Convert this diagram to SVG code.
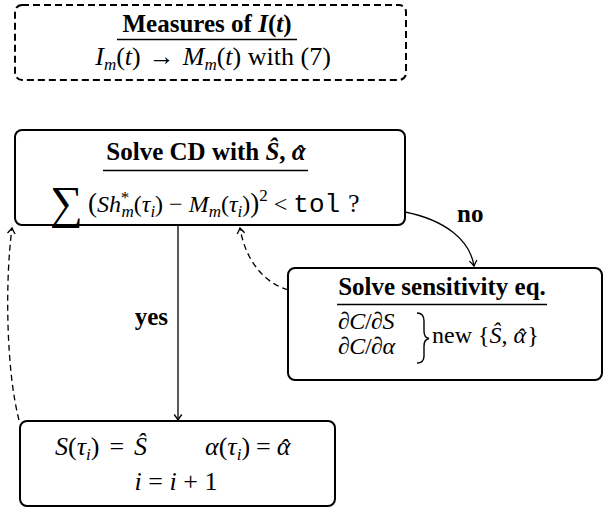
<svg xmlns="http://www.w3.org/2000/svg" width="608" height="508" viewBox="0 0 608 508">
<defs>
<style>
text{font-family:"Liberation Serif","Times New Roman",serif;fill:#000}
.t{font-size:25px;font-weight:bold}
.b{font-size:24px}
.l{font-size:26px}
.i{font-style:italic}
.s{font-size:17px}
.m{font-family:"Liberation Mono","DejaVu Sans Mono",monospace;font-size:26px}
.box{fill:#fff;stroke:#000;stroke-width:2}
.ul{stroke:#000;stroke-width:1.6}
.c{fill:none;stroke:#000;stroke-width:1.3}
.d{stroke-dasharray:6,4}
</style>
<marker id="ah" markerUnits="userSpaceOnUse" markerWidth="14" markerHeight="14" viewBox="-7 -7 14 14" refX="0" refY="0" orient="auto">
<path d="M-5.5,-3.8 Q-1.5,-0.8 0,0 Q-1.5,0.8 -5.5,3.8" fill="none" stroke="#000" stroke-width="1.3"/>
</marker>
</defs>

<g id="measures">
<rect x="15" y="5" width="391" height="75" rx="7" fill="none" stroke="#000" stroke-width="2" stroke-dasharray="7,4"/>
<text class="t" x="207" y="32" text-anchor="middle">Measures of <tspan class="i">I</tspan>(<tspan class="i">t</tspan>)</text>
<line class="ul" x1="117" y1="39.5" x2="297" y2="39.5"/>
<text class="l" x="213" y="65" text-anchor="middle"><tspan class="i">I</tspan><tspan class="i s" dy="5">m</tspan><tspan dy="-5">(</tspan><tspan class="i">t</tspan>)<tspan dx="8">→</tspan><tspan dx="8" class="i">M</tspan><tspan class="i s" dy="5">m</tspan><tspan dy="-5">(</tspan><tspan class="i">t</tspan>) with (7)</text>
</g>

<g id="solve-cd">
<rect class="box" x="15" y="130" width="390" height="95" rx="7"/>
<text class="t" x="206" y="160" text-anchor="middle">Solve CD with <tspan class="i">Ŝ</tspan>, <tspan class="i" dx="0 -11" dy="0 3">αˆ</tspan><tspan dx="3" dy="-3"> </tspan></text>
<line class="ul" x1="103" y1="170.5" x2="308" y2="170.5"/>
<text x="50" y="218" style="font-size:46px">∑</text>
<text class="b" x="88" y="212"><tspan style="font-size:27px">(</tspan><tspan class="i">Sh</tspan><tspan class="i s" dx="-1 -7" dy="-9 14">*m</tspan><tspan dy="-5">(</tspan><tspan class="i">τ</tspan><tspan class="i s" dy="5">i</tspan><tspan dy="-5">) − </tspan><tspan class="i">M</tspan><tspan class="i s" dy="5">m</tspan><tspan dy="-5">(</tspan><tspan class="i">τ</tspan><tspan class="i s" dy="5">i</tspan><tspan dy="-5">)</tspan><tspan style="font-size:27px">)</tspan><tspan class="s" dy="-11">2</tspan><tspan dy="11"> &lt; </tspan><tspan class="m">tol</tspan><tspan dx="8" style="font-size:26px">?</tspan></text>
</g>

<g id="sensitivity">
<rect class="box" x="288" y="268" width="314" height="112" rx="7"/>
<text class="t" x="442" y="295" text-anchor="middle">Solve sensitivity eq.</text>
<line class="ul" x1="337" y1="304.5" x2="547" y2="304.5"/>
<text class="b" x="338" y="329" style="letter-spacing:-0.5px"><tspan class="i">∂C</tspan>/<tspan class="i">∂S</tspan></text>
<text class="b" x="338" y="354" style="letter-spacing:-0.5px"><tspan class="i">∂C</tspan>/<tspan class="i">∂α</tspan></text>
<path d="M417,313 Q424,313 424,321 L424,331 Q424,337.5 429,338.5 Q424,339.5 424,346 L424,356 Q424,363 417,363" fill="none" stroke="#000" stroke-width="1.4"/>
<text class="b" x="432" y="343">new {<tspan class="i">Ŝ</tspan>, <tspan class="i" dx="0 -10" dy="0 2">αˆ</tspan><tspan dx="3" dy="-2">}</tspan></text>
</g>

<g id="update">
<rect class="box" x="20" y="421" width="315" height="85" rx="7"/>
<text class="l" x="55" y="455"><tspan class="i">S</tspan>(<tspan class="i">τ</tspan><tspan class="i s" dy="5">i</tspan><tspan dy="-5">)</tspan><tspan dx="10">=</tspan><tspan dx="10" class="i">Ŝ</tspan></text>
<text class="l" x="205" y="455"><tspan class="i">α</tspan>(<tspan class="i">τ</tspan><tspan class="i s" dy="5">i</tspan><tspan dy="-5">)</tspan><tspan dx="6">=</tspan><tspan dx="6 -11" dy="0 2" class="i">αˆ</tspan></text>
<text class="l" x="176" y="490" text-anchor="middle"><tspan class="i">i</tspan> = <tspan class="i">i</tspan> + 1</text>
</g>

<g id="connectors">
<path class="c" d="M178,225 L178,420" marker-end="url(#ah)"/>
<path class="c" d="M405,212 C445,220 470,240 474,266" marker-end="url(#ah)"/>
<path class="c d" d="M288,290 C262,282 245,258 240,228" marker-end="url(#ah)"/>
<path class="c d" d="M19,420 C6,370 5,280 12,228" marker-end="url(#ah)"/>
<text class="t" x="168" y="325" text-anchor="end">yes</text>
<text class="t" x="457" y="222">no</text>
</g>
</svg>
